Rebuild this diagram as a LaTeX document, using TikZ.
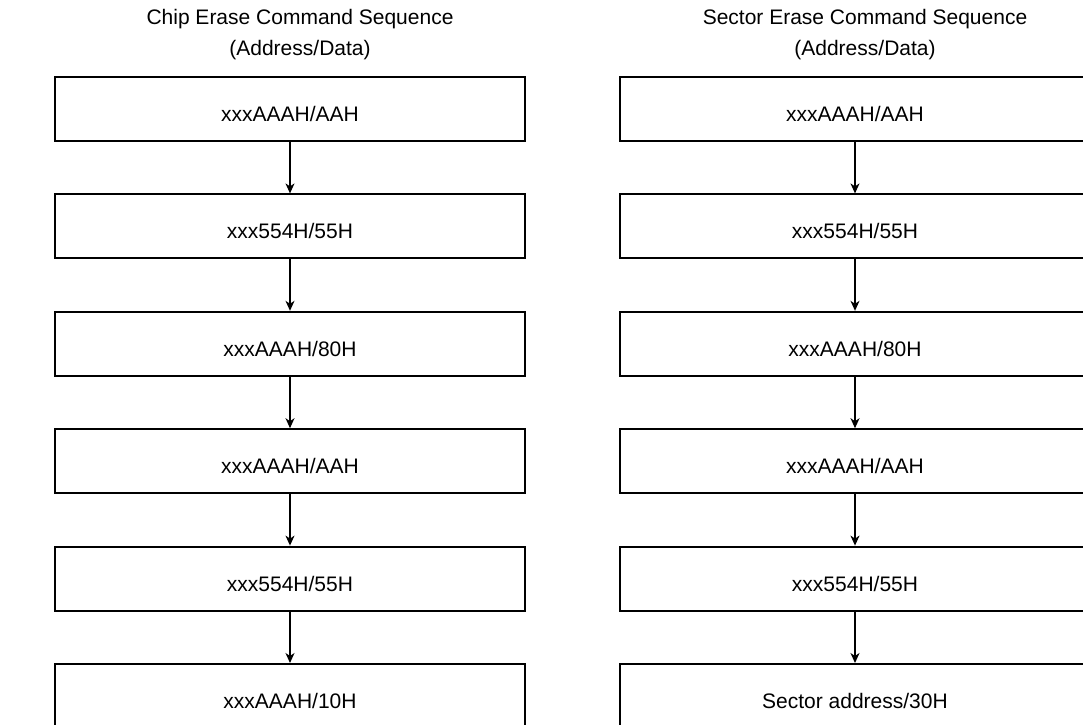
\documentclass[tikz,border=0pt]{standalone}
\usepackage{fontspec}
\setmainfont{Liberation Sans}
\usetikzlibrary{arrows.meta,positioning}
\tikzset{
  seqbox/.style={draw, line width=1pt, minimum width=235pt, minimum height=32pt,
    inner sep=0pt, text height=12.5pt, text depth=0pt,
    font=\fontsize{10.5}{12}\selectfont},
  headtext/.style={anchor=base, inner sep=0pt, font=\fontsize{10.5}{12}\selectfont},
  arr/.style={-{Stealth[length=5pt, width=4.5pt, inset=1.5pt]}, line width=0.65pt}
}
\begin{document}
\begin{tikzpicture}[x=0.5pt, y=-0.5pt]
  \useasboundingbox (0,0) rectangle (1083,724);
  \clip (0,0) rectangle (1083,724);
  % column titles
  \node[headtext] (chiphead) at (300,24) {Chip Erase Command Sequence};
  \node[headtext] (chipsub) at (300,55) {(Address/Data)};
  \node[headtext] (secthead) at (865,24) {Sector Erase Command Sequence};
  \node[headtext] (sectsub) at (865,55) {(Address/Data)};
  % command boxes
  \foreach \i/\chip/\sect [evaluate=\i as \y using 109+117.4*(\i-1)] in {
    1/{xxxAAAH/AAH}/{xxxAAAH/AAH},
    2/{xxx554H/55H}/{xxx554H/55H},
    3/{xxxAAAH/80H}/{xxxAAAH/80H},
    4/{xxxAAAH/AAH}/{xxxAAAH/AAH},
    5/{xxx554H/55H}/{xxx554H/55H},
    6/{xxxAAAH/10H}/{Sector address/30H}} {
    \node[seqbox] (chip\i) at (290,\y) {\chip};
    \node[seqbox] (sect\i) at (855,\y) {\sect};
  }
  % arrows
  \foreach \i [count=\j from 2] in {1,...,5} {
    \draw[arr] (chip\i) -- (chip\j);
    \draw[arr] (sect\i) -- (sect\j);
  }
\end{tikzpicture}
\end{document}
